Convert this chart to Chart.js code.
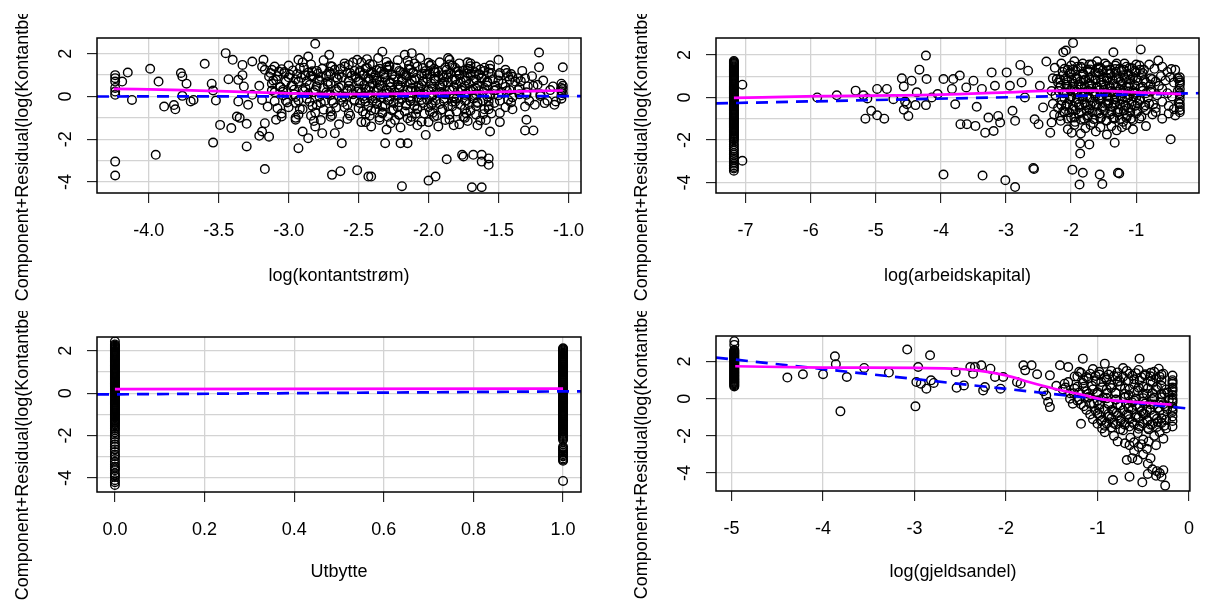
<!DOCTYPE html>
<html>
<head>
<meta charset="utf-8">
<script src="https://cdn.jsdelivr.net/npm/chart.js@4.4.1/dist/chart.umd.min.js"></script>
<style>
  html, body { margin: 0; padding: 0; background: #fff; }
  #wrap { position: relative; width: 1211px; height: 608px; overflow: hidden; }
  canvas { position: absolute; }
</style>
</head>
<body>
<div id="wrap">
  <canvas id="p1" width="605" height="297" style="left:0;top:14px"></canvas>
  <canvas id="p2" width="606" height="297" style="left:605px;top:14px"></canvas>
  <canvas id="p3" width="605" height="297" style="left:0;top:311px"></canvas>
  <canvas id="p4" width="606" height="297" style="left:605px;top:311px"></canvas>
</div>
<script>
// y-label is the same for all four panels
const yTitle = 'Component+Residual(log(Kontantbeholdning))';

// ---- log(kontantstrøm) ----
const kontPoints = [
  [-4.24,1.0],[-4.24,0.86],[-4.24,0.7],[-4.24,0.4],[-4.24,0.23],[-4.24,0.08],[-4.24,-3.05],[-4.24,-3.7],[-4.15,1.12],[-4.19,0.7],[-4.12,-0.16],
  [-3.99,1.3],[-3.93,0.7],[-3.89,-0.47],[-3.82,-0.4],[-3.81,-0.6],[-3.77,1.1],[-3.76,0.94],[-3.73,0.6],[-3.76,0.03],[-3.7,-0.23],[-3.68,-0.16],[-3.95,-2.73],
  [-3.6,1.53],[-3.55,0.6],[-3.54,0.28],[-3.52,-0.19],[-3.54,-2.16],[-3.49,-1.33],[-3.45,2.03],[-3.43,0.81],[-3.41,-1.48],[-3.4,1.72],[-3.37,-0.94],[-3.35,-1.0],
  [-3.36,0.78],[-3.33,1.48],[-3.33,1.0],[-3.32,0.47],[-3.36,-0.23],[-3.3,-1.28],[-3.3,-2.34],[-3.29,-0.39],[-3.26,1.64],[-3.26,0.08],
  [-3.21,0.5],[-3.19,1.4],[-3.18,1.72],[-3.17,1.25],[-3.19,-0.16],[-3.17,-1.25],[-3.21,-1.84],[-3.19,-1.64],[-3.14,-1.88],[-3.17,-3.4],[-3.15,-0.47],
  [-3.14,0.94],[-3.12,1.25],[-3.1,1.4],[-3.09,0.78],[-3.07,1.17],[-3.08,-0.55],[-3.09,-1.09],[-3.05,-0.94],[-3.04,0.31],[-3.03,1.09],
  [-3.12,0.6],[-3.06,0.45],[-3.02,-0.2],[-3.1,0.2],[-3.0,0.9],
  [-2.93,1.72],[-2.92,1.33],[-2.86,1.87],[-2.81,2.47],[-2.93,-2.42],[-2.86,-1.95],[-2.83,0.94],[-2.95,-1.09],[-2.9,-1.64],[-2.81,-1.4],[-2.76,-1.72],
  [-2.71,1.95],[-2.69,-3.67],[-2.63,-3.5],[-2.62,-2.19],[-2.67,-1.72],
  [-2.98,0.5],[-2.96,0.1],[-2.95,-0.3],[-2.93,0.7],[-2.9,0.3],[-2.9,-0.6],[-2.88,1.0],[-2.87,-0.1],[-2.85,0.55],[-2.84,-0.9],[-2.82,0.2],[-2.8,1.2],
  [-2.8,-0.4],[-2.78,0.75],[-2.77,-1.1],[-2.75,0.4],[-2.74,-0.2],[-2.73,1.0],[-2.72,0.1],[-2.7,-0.7],[-2.7,0.6],[-2.69,1.4],[-2.68,-0.3],[-2.66,0.9],
  [-2.65,0.25],[-2.64,-1.3],[-2.63,1.3],[-2.62,0.5],[-2.6,-0.5],[-2.6,0.0],[-2.58,1.1],[-2.57,0.7],[-2.56,-0.9],[-2.55,0.3],[-2.54,1.6],[-2.53,-0.2],
  [-2.52,0.9],[-2.51,-3.45],[-2.51,1.72],
  [-2.43,-3.75],[-2.41,-3.75],[-2.33,2.1],[-2.31,-2.19],[-2.2,-2.19],[-2.17,1.95],[-2.19,-4.2],[-2.15,-2.19],[-2.12,2.03],[-2.0,-3.94],[-1.95,-3.75],
  [-2.02,-1.8],[-1.87,-2.94],[-1.86,1.8],[-1.76,-2.73],[-1.75,-2.81],[-1.68,-2.73],[-1.62,-2.73],[-1.62,-3.05],[-1.57,-3.2],[-1.57,-2.9],[-1.69,-4.25],
  [-1.62,-4.25],[-1.56,-1.64],[-1.5,1.72],[-1.49,-1.2],[-1.45,1.25],[-1.43,0.94],[-1.43,-0.16],[-1.36,0.86],[-1.31,0.86],[-1.29,0.47],[-1.31,-0.47],
  [-1.3,-1.09],[-1.31,-1.59],[-1.25,-1.59],[-1.24,-0.39],[-1.21,2.06],[-1.21,1.37],[-1.17,-0.31],[-1.11,0.47],[-1.1,-0.39],[-1.09,-0.23],
  [-1.05,0.6],[-1.05,0.4],[-1.05,0.25],[-1.04,0.15],[-1.04,0.5],[-1.04,1.37],[-1.05,-0.1],[-1.04,0.35],[-1.05,0.05],
  [-2.48,1.6],[-2.4,1.5],[-2.36,1.8],[-2.28,1.45],[-2.22,1.7],[-2.1,1.55],[-2.06,1.8],[-1.98,1.5],[-1.92,1.6],[-1.83,1.45],[-1.78,1.55],[-1.72,1.6],
  [-1.66,1.4],[-1.6,1.35],
  [-2.49,1.2],[-2.46,1.05],[-2.44,1.35],[-2.41,1.15],[-2.38,1.0],[-2.35,1.3],[-2.32,1.1],[-2.29,1.25],[-2.26,1.0],[-2.23,1.35],[-2.2,1.15],[-2.17,1.05],
  [-2.14,1.3],[-2.11,1.1],[-2.08,1.4],[-2.05,1.0],[-2.02,1.2],[-1.99,1.05],[-1.96,1.3],[-1.93,1.15],[-1.9,1.0],[-1.87,1.25],[-1.84,1.1],[-1.81,1.35],
  [-1.78,1.05],[-1.75,1.2],[-1.72,1.3],[-1.7,1.05],[-1.67,1.15],[-1.64,1.0],[-1.6,1.2],[-1.55,1.1],
  [-2.49,0.7],[-2.46,0.55],[-2.43,0.85],[-2.4,0.6],[-2.37,0.75],[-2.34,0.5],[-2.31,0.9],[-2.28,0.65],[-2.25,0.8],[-2.22,0.55],[-2.19,0.7],[-2.16,0.9],
  [-2.13,0.6],[-2.1,0.8],[-2.07,0.5],[-2.04,0.7],[-2.01,0.85],[-1.98,0.6],[-1.95,0.75],[-1.92,0.5],[-1.89,0.9],[-1.86,0.65],[-1.83,0.8],[-1.8,0.55],
  [-1.77,0.7],[-1.74,0.9],[-1.71,0.6],[-1.68,0.75],[-1.65,0.5],[-1.62,0.85],[-1.58,0.65],[-1.54,0.8],[-1.52,0.5],
  [-2.48,0.2],[-2.45,0.35],[-2.42,0.05],[-2.39,0.25],[-2.36,0.4],[-2.33,0.1],[-2.3,0.3],[-2.27,0.0],[-2.24,0.2],[-2.21,0.4],[-2.18,0.1],[-2.15,0.3],
  [-2.12,0.0],[-2.09,0.25],[-2.06,0.4],[-2.03,0.1],[-2.0,0.3],[-1.97,0.05],[-1.94,0.2],[-1.91,0.4],[-1.88,0.1],[-1.85,0.3],[-1.82,0.0],[-1.79,0.25],
  [-1.76,0.4],[-1.73,0.15],[-1.7,0.3],[-1.67,0.05],[-1.64,0.25],[-1.6,0.4],[-1.56,0.1],[-1.52,0.3],[-1.48,0.2],
  [-2.49,-0.3],[-2.46,-0.1],[-2.43,-0.45],[-2.4,-0.2],[-2.37,-0.35],[-2.34,-0.05],[-2.31,-0.4],[-2.28,-0.15],[-2.25,-0.3],[-2.22,-0.5],[-2.19,-0.1],
  [-2.16,-0.35],[-2.13,-0.2],[-2.1,-0.45],[-2.07,-0.05],[-2.04,-0.3],[-2.01,-0.15],[-1.98,-0.4],[-1.95,-0.2],[-1.92,-0.35],[-1.89,-0.1],[-1.86,-0.45],
  [-1.83,-0.25],[-1.8,-0.1],[-1.77,-0.4],[-1.74,-0.2],[-1.71,-0.35],[-1.68,-0.1],[-1.65,-0.3],[-1.61,-0.2],[-1.57,-0.45],[-1.53,-0.3],
  [-2.47,-0.7],[-2.42,-0.9],[-2.38,-0.6],[-2.33,-0.8],[-2.29,-0.95],[-2.26,-0.65],[-2.21,-0.85],[-2.17,-0.7],[-2.12,-0.95],[-2.08,-0.6],[-2.03,-0.8],
  [-1.99,-0.7],[-1.94,-0.9],[-1.9,-0.6],[-1.85,-0.85],[-1.8,-0.7],[-1.75,-0.95],[-1.7,-0.65],[-1.66,-0.85],[-1.6,-0.6],[-1.55,-0.8],
  [-2.48,-1.2],[-2.41,-1.4],[-2.35,-1.1],[-2.3,-1.55],[-2.27,-1.25],[-2.2,-1.45],[-2.13,-1.15],[-2.08,-1.35],[-2.0,-1.2],[-1.93,-1.4],[-1.88,-1.1],
  [-1.82,-1.35],[-1.78,-1.3],[-1.72,-1.15],[-1.65,-1.35],[-1.59,-1.1],
  [-1.47,0.6],[-1.44,1.1],[-1.42,0.3],[-1.4,-0.6],[-1.38,0.7],[-1.35,0.1],[-1.33,1.2],[-1.3,0.2],[-1.28,-0.2],[-1.26,0.95],[-1.22,0.55],[-1.2,0.1],
  [-1.18,0.75],[-1.15,-0.2],[-1.13,0.3],
  [-3.05,1.28],[-2.97,1.22],[-2.89,1.35],[-2.83,1.18],[-2.76,1.3],[-2.67,1.25],[-2.6,1.4],[-2.53,1.2],[-2.45,1.32],[-2.37,1.24],[-2.3,1.38],
  [-2.21,1.2],[-2.13,1.27],[-2.04,1.33],[-1.96,1.19],[-1.88,1.36],[-1.79,1.22],[-1.71,1.29],[-1.63,1.26],[-1.56,1.3],
  [-3.08,0.95],[-2.99,1.02],[-2.91,0.88],[-2.84,0.98],[-2.77,0.92],[-2.7,1.05],[-2.62,0.9],[-2.55,0.97],[-2.47,1.0],[-2.39,0.88],[-2.32,1.03],
  [-2.24,0.93],[-2.16,0.99],[-2.09,0.87],[-2.01,1.04],[-1.93,0.94],[-1.86,0.9],[-1.78,1.0],[-1.7,0.96],[-1.62,0.89],[-1.5,1.0],[-1.4,0.92],
  [-3.06,0.45],[-2.97,0.52],[-2.88,0.4],[-2.8,0.48],[-2.72,0.55],[-2.64,0.42],[-2.57,0.5],[-2.5,0.38],[-2.42,0.47],[-2.35,0.55],[-2.27,0.44],
  [-2.2,0.5],[-2.12,0.4],[-2.05,0.53],[-1.97,0.46],[-1.9,0.58],[-1.82,0.43],[-1.74,0.49],[-1.66,0.37],[-1.58,0.51],[-1.45,0.45],[-1.35,0.4],[-1.25,0.5],
  [-3.04,0.05],[-2.95,-0.02],[-2.86,0.12],[-2.78,0.0],[-2.7,0.08],[-2.62,-0.05],[-2.54,0.1],[-2.46,0.02],[-2.38,-0.08],[-2.3,0.14],[-2.22,0.04],
  [-2.14,-0.03],[-2.06,0.09],[-1.98,0.0],[-1.9,0.13],[-1.82,-0.06],[-1.74,0.07],[-1.66,0.11],[-1.58,-0.01],[-1.5,0.06],[-1.4,-0.04],[-1.3,0.08],[-1.2,0.02],
  [-3.0,-0.5],[-2.92,-0.58],[-2.83,-0.45],[-2.75,-0.62],[-2.66,-0.52],[-2.58,-0.4],[-2.5,-0.55],[-2.41,-0.65],[-2.33,-0.48],[-2.25,-0.6],[-2.16,-0.42],
  [-2.08,-0.55],[-2.0,-0.5],[-1.91,-0.63],[-1.83,-0.46],[-1.74,-0.57],[-1.66,-0.44],[-1.57,-0.6],[-1.45,-0.5],
  [-2.95,-1.0],[-2.82,-1.15],[-2.7,-0.95],[-2.58,-1.05],[-2.45,-1.2],[-2.35,-0.98],[-2.24,-1.1],[-2.15,-1.02],[-2.05,-1.18],[-1.96,-0.95],[-1.85,-1.08],
  [-1.74,-1.0],[-1.63,-1.12],
  [-2.9,1.6],[-2.75,1.7],[-2.6,1.55],[-2.44,1.75],[-2.3,1.62],[-2.15,1.68],[-2.0,1.58],[-1.85,1.72],[-1.7,1.55],
  [-3.13,1.1],[-3.03,1.15],[-2.94,1.05],[-2.86,1.12],[-2.79,1.08],[-2.71,1.16],[-2.64,1.02],[-2.56,1.1],[-2.49,1.13],[-2.41,1.06],[-2.34,1.17],
  [-2.26,1.04],[-2.18,1.11],[-2.11,1.14],[-2.03,1.07],[-1.95,1.12],[-1.87,1.03],[-1.8,1.15],[-1.72,1.09],[-1.64,1.06],[-1.57,1.12],[-1.49,1.1],[-1.41,1.05],
  [-3.11,0.75],[-3.02,0.7],[-2.95,0.8],[-2.87,0.72],[-2.79,0.78],[-2.72,0.68],[-2.65,0.82],[-2.57,0.74],[-2.5,0.7],[-2.42,0.79],[-2.35,0.73],
  [-2.27,0.66],[-2.19,0.8],[-2.12,0.76],[-2.04,0.71],[-1.96,0.83],[-1.89,0.69],[-1.81,0.77],[-1.73,0.74],[-1.66,0.8],[-1.58,0.7],[-1.5,0.75],[-1.42,0.78],[-1.34,0.72],
  [-3.12,0.28],[-3.04,0.22],[-2.96,0.32],[-2.89,0.25],[-2.81,0.3],[-2.73,0.2],[-2.66,0.34],[-2.58,0.27],[-2.51,0.23],[-2.43,0.31],[-2.36,0.26],
  [-2.28,0.19],[-2.21,0.33],[-2.13,0.29],[-2.06,0.24],[-1.98,0.35],[-1.91,0.21],[-1.83,0.3],[-1.76,0.27],[-1.68,0.32],[-1.61,0.22],[-1.53,0.28],[-1.44,0.26],[-1.36,0.3],
  [-3.1,-0.22],[-3.01,-0.28],[-2.93,-0.18],[-2.85,-0.25],[-2.77,-0.3],[-2.69,-0.2],[-2.61,-0.26],[-2.53,-0.15],[-2.45,-0.24],[-2.37,-0.3],[-2.29,-0.19],
  [-2.21,-0.27],[-2.13,-0.22],[-2.05,-0.16],[-1.97,-0.29],[-1.89,-0.21],[-1.81,-0.25],[-1.73,-0.18],[-1.65,-0.26],[-1.57,-0.23],[-1.49,-0.2],[-1.41,-0.28],
  [-3.05,-0.8],[-2.93,-0.85],[-2.81,-0.75],[-2.69,-0.88],[-2.57,-0.78],[-2.45,-0.82],[-2.33,-0.74],[-2.21,-0.86],[-2.09,-0.8],[-1.97,-0.76],[-1.85,-0.84],
  [-1.73,-0.79],[-1.61,-0.83],[-1.49,-0.77],
  [-3.0,1.45],[-2.84,1.5],[-2.7,1.42],[-2.57,1.48],[-2.42,1.52],[-2.28,1.4],[-2.14,1.47],[-1.99,1.44],[-1.85,1.5],[-1.7,1.42],[-1.56,1.46]
];
const kontSmoothX = [-4.25, -3.75, -3.5, -3.0, -2.5, -2.0, -1.5, -1.04];
const kontSmoothY = [0.36, 0.3, 0.25, 0.15, 0.11, 0.15, 0.22, 0.28];
const kontFitX = [-4.37, -0.91];
const kontFitY = [0.0, 0.02];
const kontXTicks = [-4.0, -3.5, -3.0, -2.5, -2.0, -1.5, -1.0];
const kontYTicks = [-4, -3, -2, -1, 0, 1, 2];

// ---- log(arbeidskapital) ----
const arbStackY = [1.72,1.67,1.62,1.57,1.52,1.47,1.42,1.37,1.32,1.27,1.22,1.17,1.12,1.07,1.02,0.97,0.92,0.87,0.82,0.77,0.72,0.67,0.62,
  0.57,0.52,0.47,0.42,0.37,0.32,0.27,0.22,0.17,0.12,0.07,0.02,-0.03,-0.08,-0.13,-0.18,-0.23,-0.28,-0.33,-0.38,-0.43,-0.48,-0.53,-0.58,
  -0.63,-0.68,-0.73,-0.78,-0.83,-0.88,-0.93,-0.98,-1.03,-1.08,-1.13,-1.18,-1.23,-1.28,-1.33,-1.38,-1.43,-1.48,-1.53,-1.58,-1.63,-1.68,
  -1.73,-1.78,-1.83,-1.88,-1.93,-1.98,-2.08,-2.2,-2.3,-2.42,-2.5,-2.62,-2.7,-2.8,-2.88,-2.95,-3.05,-3.12,-3.2,-3.28,-3.35,-3.45];
const arbPoints = [
  [-7.05,0.6],[-7.05,-2.98],
  [-5.9,0.0],[-5.6,0.1],[-5.31,0.32],[-5.19,0.1],[-5.13,-0.05],[-5.16,-1.0],[-5.07,-0.63],[-4.98,0.4],[-4.98,-0.84],[-4.87,-1.0],[-4.83,0.4],
  [-4.73,-0.08],[-4.6,0.9],[-4.57,0.52],[-4.55,-0.19],[-4.57,-0.58],[-4.5,-0.87],[-4.52,-0.32],[-4.45,0.79],[-4.39,-0.36],[-4.37,0.24],[-4.33,1.31],
  [-4.23,1.97],[-4.22,0.87],[-4.23,-0.36],[-4.14,0.0],[-4.05,0.16],[-3.96,0.87],[-3.96,-3.63],[-3.83,0.4],[-3.81,0.87],[-3.78,-0.32],[-3.71,1.03],
  [-3.7,-1.26],[-3.6,-1.26],[-3.61,0.47],[-3.5,0.79],[-3.47,-1.34],[-3.45,-0.44],[-3.37,0.4],[-3.36,-3.68],[-3.32,-1.66],[-3.27,-0.95],[-3.22,1.18],
  [-3.19,-1.58],[-3.17,0.55],[-3.12,-0.87],[-3.09,-1.18],[-3.01,-3.9],[-2.99,1.18],[-2.94,0.55],[-2.9,-0.63],[-2.86,-1.1],[-2.86,-4.22],[-2.78,1.53],
  [-2.76,0.71],[-2.71,0.0],[-2.66,1.26],[-2.58,-3.32],[-2.57,-3.37],[-2.56,-1.03],[-2.5,-1.26],[-2.48,0.55],[-2.43,-0.47],[-2.38,1.69],[-2.32,-1.66],
  [-2.3,-1.18],[-2.22,0.87],[-2.17,-0.87],[-2.12,2.13],[-2.08,2.21],[-1.97,2.57],[-1.99,-1.66],[-1.98,-3.4],[-1.86,-2.64],[-1.87,-4.1],[-1.82,-3.55],
  [-1.86,-2.16],[-1.72,-2.21],[-1.56,-3.63],[-1.52,-4.08],[-1.35,2.13],[-1.33,-2.13],[-1.28,-3.55],[-1.26,-3.58],[-0.93,2.26],[-0.66,1.74],
  [-0.47,-1.97],[-0.46,1.34],
  [-2.25,1.4],[-2.15,1.6],[-2.05,1.3],[-1.95,1.7],[-1.9,1.45],[-1.82,1.6],[-1.75,1.3],[-1.68,1.55],[-1.6,1.7],[-1.55,1.4],[-1.48,1.6],[-1.4,1.3],
  [-1.32,1.5],[-1.25,1.35],[-1.18,1.6],[-1.1,1.4],[-1.02,1.25],[-0.95,1.5],[-0.88,1.3],[-0.8,1.55],[-0.72,1.35],[-0.6,1.45],[-0.52,1.2],[-0.4,1.3],
  [-2.28,0.9],[-2.2,0.7],[-2.12,1.05],[-2.06,0.8],[-2.0,1.1],[-1.96,0.65],[-1.92,0.95],[-1.86,0.75],[-1.82,1.1],[-1.78,0.85],[-1.72,0.65],[-1.68,1.0],
  [-1.63,0.8],[-1.58,1.15],[-1.54,0.7],[-1.5,0.95],[-1.45,0.8],[-1.4,1.1],[-1.35,0.65],[-1.3,0.9],[-1.24,0.75],[-1.2,1.05],[-1.15,0.85],[-1.1,0.65],
  [-1.05,0.95],[-0.98,0.8],[-0.92,1.05],[-0.85,0.7],[-0.78,0.9],[-0.7,0.75],[-0.62,1.0],[-0.55,0.8],[-0.48,0.95],[-0.42,0.7],[-0.36,0.9],
  [-2.3,0.3],[-2.24,0.1],[-2.18,0.45],[-2.12,0.2],[-2.06,0.5],[-2.0,0.05],[-1.95,0.35],[-1.9,0.15],[-1.85,0.5],[-1.8,0.25],[-1.75,0.0],[-1.7,0.4],
  [-1.65,0.2],[-1.6,0.5],[-1.55,0.1],[-1.5,0.35],[-1.45,0.05],[-1.4,0.45],[-1.35,0.25],[-1.3,0.0],[-1.25,0.4],[-1.2,0.2],[-1.15,0.5],[-1.1,0.1],
  [-1.05,0.3],[-1.0,0.0],[-0.93,0.45],[-0.85,0.2],[-0.77,0.35],[-0.68,0.1],[-0.6,0.4],[-0.52,0.2],[-0.45,0.05],[-0.36,0.3],
  [-2.28,-0.3],[-2.2,-0.5],[-2.14,-0.15],[-2.08,-0.4],[-2.02,-0.1],[-1.97,-0.55],[-1.92,-0.25],[-1.87,-0.45],[-1.82,-0.1],[-1.77,-0.35],[-1.72,-0.55],
  [-1.67,-0.2],[-1.62,-0.4],[-1.57,-0.1],[-1.52,-0.5],[-1.47,-0.3],[-1.42,-0.15],[-1.37,-0.45],[-1.32,-0.25],[-1.27,-0.55],[-1.22,-0.1],[-1.17,-0.35],
  [-1.12,-0.5],[-1.07,-0.2],[-1.02,-0.4],[-0.95,-0.15],[-0.88,-0.45],[-0.8,-0.3],[-0.7,-0.5],[-0.6,-0.2],[-0.5,-0.4],[-0.42,-0.55],[-0.35,-0.25],
  [-2.26,-0.8],[-2.16,-1.1],[-2.1,-0.7],[-2.0,-0.95],[-1.94,-1.15],[-1.88,-0.75],[-1.8,-1.0],[-1.74,-0.85],[-1.66,-1.2],[-1.6,-0.7],[-1.54,-0.95],
  [-1.46,-1.1],[-1.4,-0.8],[-1.34,-1.0],[-1.28,-0.7],[-1.2,-1.15],[-1.14,-0.85],[-1.08,-1.0],[-1.0,-0.75],[-0.92,-0.9],[-0.75,-0.8],[-0.6,-1.0],
  [-0.5,-0.75],[-0.4,-0.85],
  [-2.05,-1.5],[-1.95,-1.3],[-1.85,-1.7],[-1.78,-1.45],[-1.7,-1.3],[-1.62,-1.6],[-1.55,-1.4],[-1.45,-1.75],[-1.38,-1.35],[-1.3,-1.55],[-1.22,-1.4],
  [-1.15,-1.3],[-1.05,-1.5],[-0.85,-1.35],
  [-0.33,0.95],[-0.33,0.8],[-0.33,0.6],[-0.33,0.4],[-0.33,0.2],[-0.33,-0.1],[-0.33,-0.3],[-0.33,-0.45],[-0.33,-0.7],[-0.33,0.7],[-0.33,0.1],[-0.33,-0.6],
  [-2.13,1.2],[-2.02,1.15],[-1.93,1.25],[-1.81,1.1],[-1.72,1.22],[-1.63,1.18],[-1.51,1.28],[-1.42,1.12],[-1.31,1.2],[-1.22,1.25],[-1.12,1.1],
  [-1.01,1.18],[-0.9,1.15],
  [-2.16,0.55],[-2.07,0.6],[-1.98,0.5],[-1.88,0.62],[-1.79,0.52],[-1.69,0.58],[-1.6,0.48],[-1.5,0.6],[-1.41,0.55],[-1.31,0.5],[-1.22,0.63],
  [-1.12,0.52],[-1.02,0.57],[-0.9,0.5],[-0.78,0.6],[-0.65,0.55],
  [-2.12,-0.65],[-2.03,-0.7],[-1.93,-0.6],[-1.84,-0.72],[-1.76,-0.62],[-1.67,-0.68],[-1.57,-0.75],[-1.48,-0.6],[-1.38,-0.66],[-1.29,-0.72],
  [-1.19,-0.62],[-1.09,-0.7],[-0.98,-0.65],[-0.85,-0.6],[-0.7,-0.68],
  [-2.1,-0.05],[-2.0,0.02],[-1.91,-0.08],[-1.82,0.05],[-1.72,-0.02],[-1.63,0.08],[-1.53,-0.06],[-1.43,0.03],[-1.33,-0.1],[-1.24,0.06],[-1.14,-0.03],
  [-1.04,0.04],[-0.94,-0.07],[-0.82,0.0],
  [-2.0,1.5],[-1.85,1.45],[-1.72,1.55],[-1.58,1.42],[-1.45,1.5],[-1.3,1.6],[-1.15,1.45],[-1.0,1.55],
  [-2.17,0.85],[-2.08,0.9],[-1.99,0.82],[-1.9,0.88],[-1.81,0.8],[-1.72,0.92],[-1.63,0.86],[-1.54,0.83],[-1.45,0.9],[-1.36,0.81],[-1.27,0.87],
  [-1.18,0.93],[-1.09,0.84],[-1.0,0.89],[-0.88,0.82],[-0.75,0.86],
  [-2.19,0.3],[-2.1,0.25],[-2.01,0.34],[-1.92,0.28],[-1.83,0.22],[-1.74,0.32],[-1.65,0.27],[-1.56,0.35],[-1.47,0.24],[-1.38,0.3],[-1.29,0.26],
  [-1.2,0.33],[-1.11,0.29],[-1.02,0.23],[-0.9,0.31],[-0.78,0.27],
  [-2.15,-0.35],[-2.06,-0.3],[-1.97,-0.4],[-1.88,-0.33],[-1.79,-0.27],[-1.7,-0.38],[-1.61,-0.32],[-1.52,-0.42],[-1.43,-0.29],[-1.34,-0.36],
  [-1.25,-0.31],[-1.16,-0.4],[-1.07,-0.34],[-0.98,-0.28],[-0.86,-0.37],[-0.74,-0.33],
  [-2.05,-1.0],[-1.95,-0.95],[-1.85,-1.05],[-1.75,-0.92],[-1.65,-1.02],[-1.55,-0.98],[-1.45,-1.08],[-1.35,-0.94],[-1.25,-1.03],[-1.15,-0.97],
  [-1.05,-1.06],[-0.95,-0.99],
  [-2.1,1.35],[-1.97,1.3],[-1.84,1.38],[-1.71,1.32],[-1.58,1.36],[-1.45,1.28],[-1.32,1.34],[-1.19,1.3],[-1.06,1.37],[-0.94,1.31]
];
const arbSmoothX = [-7.18, -5.9, -4.0, -3.0, -2.38, -1.71, -1.0, -0.31];
const arbSmoothY = [-0.02, 0.06, 0.13, 0.24, 0.31, 0.32, 0.24, 0.16];
const arbFitX = [-7.455, -0.035];
const arbFitY = [-0.28, 0.2];
const arbXTicks = [-7, -6, -5, -4, -3, -2, -1];
const arbYTicks = [-4, -3, -2, -1, 0, 1, 2];

// ---- Utbytte ----
const utbNoY = [2.44,2.3,2.25,2.2,2.15,2.1,2.05,2.0,1.95,1.9,1.85,1.8,1.75,1.7,1.65,1.6,1.55,1.5,1.45,1.4,1.35,1.3,1.25,1.2,1.15,1.1,
  1.05,1.0,0.95,0.9,0.85,0.8,0.75,0.7,0.65,0.6,0.55,0.5,0.45,0.4,0.35,0.3,0.25,0.2,0.15,0.1,0.05,0.0,-0.05,-0.1,-0.15,-0.2,-0.25,-0.3,
  -0.35,-0.4,-0.45,-0.5,-0.55,-0.6,-0.65,-0.7,-0.75,-0.8,-0.85,-0.9,-0.95,-1.0,-1.05,-1.1,-1.15,-1.2,-1.25,-1.3,-1.35,-1.4,-1.45,-1.52,
  -1.6,-1.68,-1.75,-1.85,-1.95,-2.05,-2.15,-2.3,-2.42,-2.53,-2.65,-2.77,-2.9,-2.97,-3.1,-3.23,-3.35,-3.47,-3.55,-3.63,-3.78,-3.88,
  -3.95,-4.1,-4.2,-4.33];
const utbYesY = [2.12,2.07,2.02,1.97,1.92,1.87,1.82,1.77,1.72,1.67,1.62,1.57,1.52,1.47,1.42,1.37,1.32,1.27,1.22,1.17,1.12,1.07,1.02,
  0.97,0.92,0.87,0.82,0.77,0.72,0.67,0.62,0.57,0.52,0.47,0.42,0.37,0.32,0.27,0.22,0.17,0.12,0.07,0.02,-0.03,-0.08,-0.13,-0.18,-0.23,
  -0.28,-0.33,-0.38,-0.43,-0.48,-0.53,-0.58,-0.63,-0.68,-0.73,-0.78,-0.83,-0.88,-0.93,-0.98,-1.03,-1.08,-1.13,-1.18,-1.23,-1.28,-1.33,
  -1.38,-1.43,-1.48,-1.53,-1.58,-1.63,-1.68,-1.73,-1.78,-1.83,-1.88,-1.93,-1.98,-2.03,-2.08,-2.13,-2.19,-2.53,-2.6,-2.65,-2.72,-2.8,
  -2.88,-2.94,-2.98,-3.08,-3.14,-3.19,-4.14];
const utbSmoothX = [0, 1];
const utbSmoothY = [0.19, 0.22];
const utbFitX = [-0.04, 1.04];
const utbFitY = [-0.06, 0.09];
const utbXTicks = [0.0, 0.2, 0.4, 0.6, 0.8, 1.0];
const utbYTicks = [-4, -3, -2, -1, 0, 1, 2];

// ---- log(gjeldsandel) ----
const gjeldStackY = [3.1,2.9,2.62,2.57,2.52,2.47,2.42,2.37,2.32,2.27,2.22,2.17,2.12,2.07,2.02,1.97,1.92,1.87,1.82,1.77,1.72,1.67,1.62,
  1.57,1.52,1.47,1.42,1.37,1.32,1.27,1.22,1.17,1.12,1.07,1.02,0.97,0.92,0.87,0.82,0.77,0.72,0.66];
const gjeldPoints = [
  [-4.39,1.14],[-4.22,1.32],[-4.0,1.32],[-3.87,2.29],[-3.86,1.86],[-3.81,-0.68],[-3.74,1.17],[-3.55,1.66],[-3.28,1.41],[-3.08,2.65],[-2.99,-0.41],
  [-2.96,1.71],[-2.98,0.9],[-2.93,0.81],[-2.87,0.54],[-2.83,2.34],[-2.82,0.99],[-2.79,0.85],[-2.55,1.44],[-2.54,0.59],[-2.46,0.72],[-2.39,1.71],
  [-2.36,1.35],[-2.34,1.71],[-2.27,1.8],[-2.25,0.45],[-2.23,0.63],[-2.17,1.62],[-2.12,1.17],[-2.06,0.54],[-2.03,1.17],[-1.88,0.9],[-1.84,0.81],
  [-1.81,1.8],[-1.79,1.53],[-1.72,1.8],[-1.66,1.32],[-1.59,0.41],[-1.56,0.18],[-1.54,-0.18],[-1.52,-0.45],[-1.52,1.26],[-1.41,1.8],[-1.36,0.81],
  [-1.32,1.71],[-1.27,-0.27],[-1.18,-1.35],[-1.16,2.16],[-0.92,1.89],[-0.83,-4.38],[-0.65,-4.2],[-0.54,2.16],[-0.51,-4.5],[-0.26,-4.68],[-0.33,1.62],
  [-1.25,1.2],[-1.2,1.45],[-1.1,1.1],[-1.05,1.6],[-0.98,1.3],[-0.9,1.05],[-0.85,1.5],[-0.78,1.2],[-0.72,1.65],[-0.65,1.35],[-0.6,1.05],[-0.55,1.55],
  [-0.48,1.25],[-0.42,1.4],[-0.36,1.1],[-0.3,1.3],
  [-1.45,0.7],[-1.38,0.5],[-1.32,0.9],[-1.26,0.3],[-1.22,0.65],[-1.16,0.85],[-1.12,0.4],[-1.06,0.7],[-1.0,0.25],[-0.96,0.9],[-0.9,0.5],[-0.86,0.75],
  [-0.8,0.3],[-0.76,0.95],[-0.7,0.55],[-0.66,0.2],[-0.6,0.8],[-0.56,0.45],[-0.5,0.65],[-0.46,0.25],[-0.4,0.85],[-0.36,0.5],[-0.3,0.7],[-0.27,0.3],
  [-1.22,-0.1],[-1.15,-0.4],[-1.1,0.1],[-1.04,-0.25],[-0.98,-0.55],[-0.94,0.05],[-0.88,-0.3],[-0.84,-0.6],[-0.8,-0.05],[-0.75,-0.35],[-0.7,0.1],
  [-0.66,-0.5],[-0.62,-0.2],[-0.58,0.0],[-0.54,-0.45],[-0.5,-0.15],[-0.46,-0.6],[-0.42,-0.3],[-0.38,0.05],[-0.34,-0.5],[-0.3,-0.2],[-0.26,-0.4],
  [-1.0,-0.8],[-0.96,-1.2],[-0.92,-1.45],[-0.87,-0.95],[-0.83,-1.3],[-0.79,-0.75],[-0.74,-1.1],[-0.7,-1.4],[-0.66,-0.85],[-0.62,-1.25],[-0.58,-1.0],
  [-0.54,-1.5],[-0.5,-0.8],[-0.46,-1.15],[-0.42,-1.4],[-0.38,-0.9],[-0.34,-1.25],[-0.3,-1.05],[-0.27,-1.45],
  [-0.92,-1.8],[-0.82,-2.0],[-0.72,-1.7],[-0.64,-2.1],[-0.56,-1.85],[-0.5,-2.2],[-0.44,-1.65],[-0.38,-2.0],[-0.32,-1.8],[-0.28,-2.15],
  [-0.65,-2.5],[-0.6,-2.8],[-0.55,-2.6],[-0.5,-3.0],[-0.46,-2.7],[-0.42,-3.2],[-0.62,-3.2],[-0.68,-3.3],[-0.56,-3.3],[-0.45,-3.5],[-0.4,-3.8],
  [-0.35,-3.9],[-0.32,-4.0],[-0.28,-3.85],[-0.36,-4.15],[-0.3,-4.2],[-0.45,-4.05],
  [-0.18,1.25],[-0.18,1.0],[-0.18,0.8],[-0.18,0.6],[-0.18,0.4],[-0.18,0.2],[-0.18,0.0],[-0.18,-0.2],[-0.18,-0.45],[-0.18,-0.7],[-0.18,-0.95],
  [-0.18,-1.2],[-0.18,-1.5],[-0.18,0.9],[-0.18,0.5],[-0.18,-0.1],[-0.18,-0.6],
  [-1.18,1.4],[-1.08,1.35],[-0.98,1.45],[-0.88,1.3],[-0.78,1.42],[-0.68,1.5],[-0.58,1.38],[-0.48,1.32],[-0.38,1.45],[-0.28,1.35],
  [-1.35,0.6],[-1.25,0.55],[-1.15,0.65],[-1.05,0.5],[-0.95,0.62],[-0.85,0.58],[-0.75,0.68],[-0.65,0.52],[-0.55,0.6],[-0.45,0.56],[-0.35,0.64],[-0.25,0.5],
  [-1.3,0.0],[-1.2,-0.05],[-1.1,0.05],[-1.0,-0.1],[-0.9,0.02],[-0.8,-0.04],[-0.7,0.06],[-0.6,-0.08],[-0.5,0.03],[-0.4,-0.02],[-0.3,0.08],[-0.22,-0.06],
  [-1.12,-0.6],[-1.02,-0.65],[-0.92,-0.55],[-0.82,-0.7],[-0.72,-0.62],[-0.62,-0.58],[-0.52,-0.68],[-0.42,-0.6],[-0.32,-0.65],[-0.24,-0.55],
  [-1.05,-1.1],[-0.95,-1.15],[-0.85,-1.05],[-0.75,-1.2],[-0.65,-1.1],[-0.55,-1.0],[-0.45,-1.18],[-0.35,-1.08],[-0.25,-1.12],
  [-0.95,-1.6],[-0.85,-1.55],[-0.75,-1.65],[-0.65,-1.5],[-0.55,-1.62],[-0.45,-1.58],[-0.35,-1.52],[-0.25,-1.6],
  [-1.15,1.0],[-1.02,0.95],[-0.9,1.02],[-0.78,0.92],[-0.66,1.0],[-0.54,0.97],[-0.42,0.94],[-0.3,1.0],
  [-1.22,1.2],[-1.12,1.17],[-1.02,1.23],[-0.92,1.15],[-0.82,1.22],[-0.72,1.18],[-0.62,1.24],[-0.52,1.16],[-0.42,1.21],[-0.32,1.19],
  [-1.3,0.3],[-1.2,0.33],[-1.1,0.27],[-1.0,0.35],[-0.9,0.29],[-0.8,0.32],[-0.7,0.26],[-0.6,0.34],[-0.5,0.28],[-0.4,0.31],[-0.3,0.25],[-0.23,0.33],
  [-1.18,-0.3],[-1.08,-0.27],[-0.98,-0.33],[-0.88,-0.25],[-0.78,-0.32],[-0.68,-0.28],[-0.58,-0.35],[-0.48,-0.26],[-0.38,-0.31],[-0.28,-0.29],
  [-1.08,-0.85],[-0.98,-0.88],[-0.88,-0.82],[-0.78,-0.9],[-0.68,-0.84],[-0.58,-0.87],[-0.48,-0.83],[-0.38,-0.89],[-0.28,-0.86],
  [-1.0,-1.35],[-0.9,-1.32],[-0.8,-1.38],[-0.7,-1.3],[-0.6,-1.36],[-0.5,-1.33],[-0.4,-1.37],[-0.3,-1.31],
  [-0.78,-2.3],[-0.7,-2.4],[-0.6,-2.35],[-0.52,-2.45],[-0.44,-2.3],[-0.36,-2.5]
];
const gjeldSmoothX = [-4.96, -4.0, -3.0, -2.6, -2.32, -2.0, -1.75, -1.47, -1.18, -0.93, -0.72, -0.47, -0.19];
const gjeldSmoothY = [1.75, 1.68, 1.66, 1.62, 1.53, 1.26, 0.9, 0.54, 0.23, -0.05, -0.13, -0.22, -0.32];
const gjeldFitX = [-5.17, 0.01];
const gjeldFitY = [2.22, -0.54];
const gjeldXTicks = [-5, -4, -3, -2, -1, 0];
const gjeldYTicks = [-4, -2, 0, 2];

const FONT = { family: "'Liberation Sans', Arial, Helvetica, sans-serif", size: 18 };

const boxPlugin = {
  id: 'box',
  afterDraw(chart) {
    const { ctx, chartArea: a } = chart;
    ctx.save();
    ctx.strokeStyle = '#000';
    ctx.lineWidth = 1.5;
    ctx.strokeRect(a.left, a.top, a.right - a.left, a.bottom - a.top);
    ctx.restore();
  }
};

const toXY = (xs, ys) => xs.map((x, i) => ({ x: x, y: ys[i] }));

function makePanel(id, p) {
  new Chart(document.getElementById(id), {
    type: 'scatter',
    data: {
      datasets: [
        { type: 'line', data: toXY(p.smoothX, p.smoothY), borderColor: '#ff00ff', borderWidth: 2.7,
          pointRadius: 0, cubicInterpolationMode: 'monotone', fill: false },
        { type: 'line', data: toXY(p.fitX, p.fitY), borderColor: '#0000ff', borderWidth: 2.7,
          borderDash: [12, 8], pointRadius: 0, fill: false },
        { data: p.points.map(d => ({ x: d[0], y: d[1] })), pointRadius: 4.3, pointBorderWidth: 1.4,
          borderColor: '#000', backgroundColor: 'rgba(0,0,0,0)', pointHoverRadius: 4.3 }
      ]
    },
    options: {
      responsive: false,
      animation: false,
      layout: { padding: { top: p.top, right: p.right, left: 0, bottom: 0 } },
      plugins: { legend: { display: false }, tooltip: { enabled: false } },
      scales: {
        x: {
          type: 'linear', min: p.xMin, max: p.xMax,
          afterBuildTicks: s => { s.ticks = p.xTicks.map(v => ({ value: v })); },
          afterFit: s => { s.height = p.xh; },
          border: { display: false },
          grid: { color: '#d3d3d3', lineWidth: 1.3, tickColor: '#000', tickLength: 10, tickWidth: 1 },
          ticks: { font: FONT, color: '#000', padding: 17, maxRotation: 0, autoSkip: false,
                   callback: v => p.xFmt(v) },
          title: { display: true, text: p.xTitle, font: FONT, color: '#000',
                   padding: { top: 0, bottom: p.xtPad } }
        },
        y: {
          type: 'linear', min: p.yMin, max: p.yMax,
          afterBuildTicks: s => { s.ticks = p.yTicks.map(v => ({ value: v })); },
          afterFit: s => { s.width = p.yw; },
          border: { display: false },
          grid: { color: '#d3d3d3', lineWidth: 1.3, tickLength: 10, tickWidth: 1,
                  tickColor: c => (c.tick && Math.abs(c.tick.value) % 2 === 1) ? 'rgba(0,0,0,0)' : '#000' },
          ticks: { font: FONT, color: '#000', padding: 13, minRotation: 90, maxRotation: 90,
                   crossAlign: 'center', autoSkip: false,
                   callback: v => (Math.abs(v) % 2 === 1 ? '' : String(v)) },
          title: { display: true, text: yTitle, font: FONT, color: '#000',
                   padding: { top: p.ytPad, bottom: 0 } }
        }
      }
    },
    plugins: [boxPlugin]
  });
}

const fmt1 = v => v.toFixed(1);
const fmt0 = v => String(v);

makePanel('p1', {
  points: kontPoints, smoothX: kontSmoothX, smoothY: kontSmoothY, fitX: kontFitX, fitY: kontFitY,
  xMin: -4.37, xMax: -0.91, yMin: -4.52, yMax: 2.74, xTicks: kontXTicks, yTicks: kontYTicks, xFmt: fmt1,
  xTitle: 'log(kontantstrøm)', top: 24, right: 24, xh: 118, yw: 97, xtPad: 24, ytPad: 12.5
});
makePanel('p2', {
  points: arbStackY.map(y => [-7.18, y]).concat(arbPoints), smoothX: arbSmoothX, smoothY: arbSmoothY,
  fitX: arbFitX, fitY: arbFitY,
  xMin: -7.455, xMax: -0.035, yMin: -4.5, yMax: 2.8, xTicks: arbXTicks, yTicks: arbYTicks, xFmt: fmt0,
  xTitle: 'log(arbeidskapital)', top: 24, right: 12, xh: 118, yw: 111, xtPad: 24, ytPad: 26.5
});
makePanel('p3', {
  points: utbNoY.map(y => [0, y]).concat(utbYesY.map(y => [1, y])), smoothX: utbSmoothX, smoothY: utbSmoothY,
  fitX: utbFitX, fitY: utbFitY,
  xMin: -0.04, xMax: 1.04, yMin: -4.66, yMax: 2.65, xTicks: utbXTicks, yTicks: utbYTicks, xFmt: fmt1,
  xTitle: 'Utbytte', top: 26, right: 24, xh: 116, yw: 97, xtPad: 25, ytPad: 12.5
});
makePanel('p4', {
  points: gjeldStackY.map(y => [-4.97, y]).concat(gjeldPoints), smoothX: gjeldSmoothX, smoothY: gjeldSmoothY,
  fitX: gjeldFitX, fitY: gjeldFitY,
  xMin: -5.17, xMax: 0.01, yMin: -4.97, yMax: 3.38, xTicks: gjeldXTicks, yTicks: gjeldYTicks, xFmt: fmt0,
  xTitle: 'log(gjeldsandel)', top: 25, right: 12, xh: 117, yw: 111, xtPad: 25, ytPad: 26.5
});
</script>
</body>
</html>
